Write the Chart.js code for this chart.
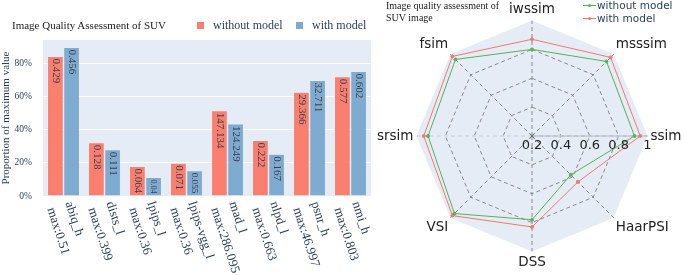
<!DOCTYPE html>
<html>
<head>
<meta charset="utf-8">
<script src="https://cdn.jsdelivr.net/npm/chart.js@4.4.0/dist/chart.umd.min.js"></script>
<style>
  body { margin: 0; width: 685px; height: 275px; position: relative; background: #fff; overflow: hidden; }
  #barWrap { position: absolute; left: 0; top: 0; width: 375px; height: 275px; }
  #radarWrap { position: absolute; left: 375px; top: 0; width: 310px; height: 275px; }
  .t { position: absolute; white-space: nowrap; }
  .serif { font-family: "Liberation Serif", "Times New Roman", serif; }
  .sans { font-family: "DejaVu Sans", Verdana, sans-serif; }
  .sq { position: absolute; width: 7px; height: 7px; }
  .ln { position: absolute; width: 13px; height: 1px; }
  .ln i { position: absolute; left: 5px; top: -1px; width: 3px; height: 3px; border-radius: 50%; }
</style>
</head>
<body>
<div id="barWrap"><canvas id="bar" width="375" height="275"></canvas></div>
<div id="radarWrap"><canvas id="radar" width="310" height="275"></canvas></div>

<div class="t serif" style="left:12px; top:19px; font-size:11px; line-height:12px; color:#222;">Image Quality Assessment of SUV</div>
<div class="sq" style="left:197px; top:22px; background:#FA7F6F;"></div>
<div class="t serif" style="left:213px; top:18px; font-size:12px; line-height:14px; color:#2a3f5f;">without model</div>
<div class="sq" style="left:296px; top:22px; background:#7FABD1;"></div>
<div class="t serif" style="left:312px; top:18px; font-size:12px; line-height:14px; color:#2a3f5f;">with model</div>

<div class="t serif" style="left:386px; top:0px; font-size:10px; line-height:12px; color:#222;">Image quality assessment of<br>SUV image</div>
<div class="ln" style="left:583px; top:5px; background:#55b455;"><i style="background:#55b455;"></i></div>
<div class="t sans" style="left:597px; top:-1px; font-size:10.5px; line-height:12px; color:#2a3f5f;">without model</div>
<div class="ln" style="left:583px; top:18px; background:#f07a70;"><i style="background:#f07a70;"></i></div>
<div class="t sans" style="left:597px; top:12px; font-size:10.5px; line-height:12px; color:#2a3f5f;">with model</div>

<script>
// bar chart data: raw metric values and the max used to normalise them
const metricNames = ['abiq_h', 'dists_l', 'lpips_l', 'lpips-vgg_l', 'mad_l', 'nlpd_l', 'psnr_h', 'nmi_h'];
const metricMax = [0.51, 0.399, 0.36, 0.36, 286.095, 0.663, 46.997, 0.803];
const withoutModel = [0.429, 0.128, 0.064, 0.071, 147.134, 0.222, 29.366, 0.577];
const withModel = [0.456, 0.111, 0.04, 0.055, 124.249, 0.167, 32.711, 0.602];
const yTicks = [0, 20, 40, 60, 80];

// radar chart data
const radarLabels = ['iwssim', 'msssim', 'ssim', 'HaarPSI', 'DSS', 'VSI', 'srsim', 'fsim'];
const radarWithout = [0.80, 0.93, 0.91, 0.58, 0.78, 0.96, 0.92, 0.95];
const radarWith = [0.87, 0.97, 0.95, 0.65, 0.83, 0.98, 0.95, 0.98];
const radarTicks = [0.2, 0.4, 0.6, 0.8, 1];

const SERIF = '"Liberation Serif", "Times New Roman", serif';
const SANS = '"DejaVu Sans", Verdana, sans-serif';

// proportion of max, in percent
function toPct(vals) {
    return vals.map((v, i) => v / metricMax[i] * 100);
}

// plot background
const plotBg = {
    id: 'plotBg',
    beforeDraw(chart) {
        const a = chart.chartArea, ctx = chart.ctx;
        ctx.save();
        ctx.fillStyle = '#E5ECF6';
        ctx.fillRect(a.left, a.top, a.right - a.left, a.bottom - a.top);
        ctx.restore();
    }
};

// values written inside the bars, rotated
const barText = {
    id: 'barText',
    afterDatasetsDraw(chart) {
        const ctx = chart.ctx;
        chart.data.datasets.forEach((ds, di) => {
            chart.getDatasetMeta(di).data.forEach((bar, i) => {
                const txt = String(ds.raw[i]);
                const h = bar.base - bar.y;
                let size = 11;
                ctx.font = size + 'px ' + SERIF;
                const w = ctx.measureText(txt).width;
                if (w > h - 4) size = size * (h - 4) / w;
                ctx.save();
                ctx.translate(bar.x, bar.y + 2);
                ctx.rotate(Math.PI / 2);
                ctx.font = size + 'px ' + SERIF;
                ctx.fillStyle = '#3a3f4a';
                ctx.textAlign = 'left';
                ctx.textBaseline = 'middle';
                ctx.fillText(txt, 0, 0);
                ctx.restore();
            });
        });
    }
};

// two-line category labels, rotated clockwise
const xLabels = {
    id: 'xLabels',
    afterDraw(chart) {
        const ctx = chart.ctx, xs = chart.scales.x, bottom = chart.chartArea.bottom;
        const ang = 72 * Math.PI / 180, lh = 19;
        ctx.save();
        ctx.font = '13px ' + SERIF;
        ctx.fillStyle = '#2a3f5f';
        ctx.textAlign = 'left';
        ctx.textBaseline = 'middle';
        metricNames.forEach((name, i) => {
            const lines = [name, 'max:' + metricMax[i]];
            ctx.save();
            ctx.translate(xs.getPixelForValue(i) - 4, bottom + 9);
            ctx.rotate(ang);
            lines.forEach((l, j) => ctx.fillText(l, 0, (j - 0.5) * lh));
            ctx.restore();
        });
        ctx.restore();
    }
};

new Chart(document.getElementById('bar'), {
    type: 'bar',
    data: {
        labels: metricNames,
        datasets: [
            { label: 'without model', data: toPct(withoutModel), raw: withoutModel,
              backgroundColor: '#FA7F6F', borderColor: '#E5ECF6', borderWidth: 0.5 },
            { label: 'with model', data: toPct(withModel), raw: withModel,
              backgroundColor: '#7FABD1', borderColor: '#E5ECF6', borderWidth: 0.5 }
        ]
    },
    options: {
        responsive: false,
        animation: false,
        layout: { padding: { top: 40, right: 4, bottom: 79, left: 0 } },
        plugins: { legend: { display: false }, tooltip: { enabled: false } },
        datasets: { bar: { categoryPercentage: 0.79, barPercentage: 0.97 } },
        scales: {
            x: { display: false },
            y: {
                min: 0,
                max: 94,
                afterBuildTicks: s => { s.ticks = yTicks.map(v => ({ value: v })); },
                grid: { color: '#ffffff', lineWidth: 1 },
                border: { display: false },
                ticks: { callback: v => v + '%', font: { family: SERIF, size: 9.5 }, color: '#2a3f5f', padding: 3 },
                title: { display: true, text: 'Proportion of maximum value', font: { family: SERIF, size: 11 }, color: '#2a3f5f', padding: 0 },
                afterFit: s => { s.width = 43; }
            }
        }
    },
    plugins: [plotBg, barText, xLabels]
});

// radar extras: solid ssim axis, centre mark, radial tick labels
const radarExtra = {
    id: 'radarExtra',
    beforeDatasetsDraw(chart) {
        const r = chart.scales.r, ctx = chart.ctx;
        const end = r.getPointPositionForValue(2, r.max);
        ctx.save();
        ctx.strokeStyle = '#c4cbd6';
        ctx.lineWidth = 1.5;
        ctx.beginPath();
        ctx.moveTo(r.xCenter, r.yCenter);
        ctx.lineTo(end.x, end.y);
        ctx.stroke();
        ctx.strokeStyle = '#666';
        ctx.lineWidth = 1;
        ctx.beginPath();
        ctx.moveTo(r.xCenter - 2.5, r.yCenter - 2.5); ctx.lineTo(r.xCenter + 2.5, r.yCenter + 2.5);
        ctx.moveTo(r.xCenter + 2.5, r.yCenter - 2.5); ctx.lineTo(r.xCenter - 2.5, r.yCenter + 2.5);
        ctx.stroke();
        ctx.restore();
    },
    afterDatasetsDraw(chart) {
        const r = chart.scales.r, ctx = chart.ctx;
        ctx.save();
        ctx.font = '13px ' + SANS;
        ctx.fillStyle = '#222';
        ctx.textAlign = 'center';
        ctx.textBaseline = 'top';
        radarTicks.forEach(v => {
            const p = r.getPointPositionForValue(2, v);
            ctx.fillText(String(v), p.x, p.y + 3);
        });
        ctx.restore();
    }
};

new Chart(document.getElementById('radar'), {
    type: 'radar',
    data: {
        labels: radarLabels,
        datasets: [
            { label: 'without model', data: radarWithout, borderColor: '#55b455', backgroundColor: '#55b455',
              borderWidth: 1, pointRadius: 1.5, fill: false },
            { label: 'with model', data: radarWith, borderColor: '#f07a70', backgroundColor: '#f07a70',
              borderWidth: 1, pointRadius: 1.5, fill: false }
        ]
    },
    options: {
        responsive: false,
        animation: false,
        layout: { padding: { top: 0, bottom: 2, left: 0, right: 0 } },
        plugins: { legend: { display: false }, tooltip: { enabled: false } },
        elements: { line: { tension: 0 } },
        scales: {
            r: {
                min: 0.2,
                max: 1,
                backgroundColor: '#E5ECF6',
                afterBuildTicks: s => { s.ticks = radarTicks.map(v => ({ value: v })); },
                ticks: { display: false },
                grid: { circular: false, color: c => (c.tick && c.tick.value >= 1) ? 'rgba(0,0,0,0)' : '#8a8a8a', lineWidth: 1 },
                border: { dash: [4, 3] },
                angleLines: { color: c => c.index === 6 ? '#c9cfd9' : '#8a8a8a', borderDash: [4, 3], lineWidth: 1 },
                pointLabels: { font: { family: SANS, size: 13.5 }, color: '#222', padding: 3 }
            }
        }
    },
    plugins: [radarExtra]
});
</script>
</body>
</html>
